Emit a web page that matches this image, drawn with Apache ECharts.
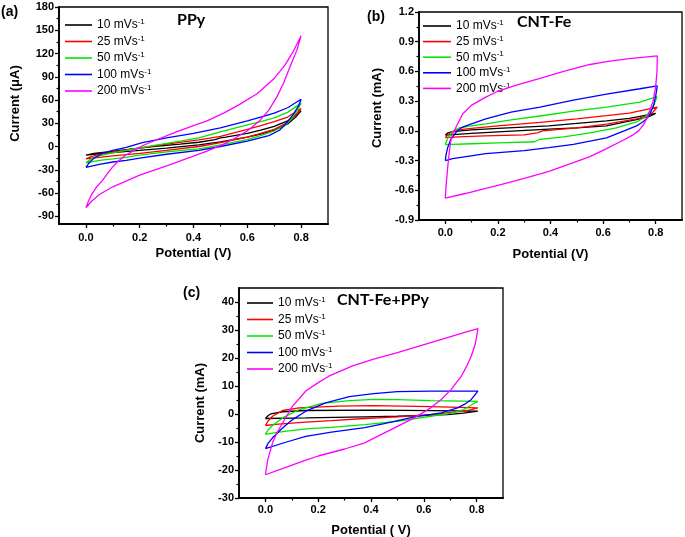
<!DOCTYPE html>
<html><head><meta charset="utf-8">
<script src="https://cdn.jsdelivr.net/npm/echarts@6/dist/echarts.min.js"></script>
<style>html,body{margin:0;padding:0;background:#fff}#c{width:685px;height:537px}</style>
</head><body><div id="c"></div>
<script>
// ---------- labels / ticks ----------
const rates = ['10', '25', '50', '100', '200'];
const rateColors = ['#000000', '#ff0000', '#00e600', '#0000ff', '#ff00ff'];
const potentialTicks = [0, 0.2, 0.4, 0.6, 0.8];
const potentialMinor = [0.1, 0.3, 0.5, 0.7];
const ppyTicks = [-90, -60, -30, 0, 30, 60, 90, 120, 150, 180];
const ppyMinor = [-75, -45, -15, 15, 45, 75, 105, 135, 165];
const cntTicks = [-0.9, -0.6, -0.3, 0, 0.3, 0.6, 0.9, 1.2];
const cntMinor = [-0.75, -0.45, -0.15, 0.15, 0.45, 0.75, 1.05];
const compTicks = [-30, -20, -10, 0, 10, 20, 30, 40];
const compMinor = [-25, -15, -5, 5, 15, 25, 35];

// ---------- (a) PPy, current in uA : [potential V, current] ----------
const ppy10 = [[0,-11],[0.03,-9],[0.08,-7],[0.15,-4],[0.25,0],[0.35,3],[0.42,5.5],[0.48,9],[0.5,11],[0.52,12],[0.6,17],[0.65,21],[0.7,26],[0.75,33],[0.8,46],
  [0.78,38],[0.75,29],[0.7,21],[0.65,16],[0.6,12],[0.5,6],[0.42,2],[0.3,-2],[0.2,-5],[0.1,-8],[0.05,-9.5],[0,-11]];
const ppy25 = [[0,-16],[0.02,-13],[0.05,-10],[0.1,-7],[0.2,-2],[0.3,3],[0.42,8.6],[0.5,13],[0.6,22],[0.65,27],[0.7,32],[0.75,38],[0.8,49],
  [0.78,40],[0.75,31],[0.7,22],[0.65,17],[0.6,12],[0.5,5],[0.42,0],[0.3,-5],[0.2,-9],[0.1,-12],[0.05,-14],[0,-16]];
const ppy50 = [[0,-21],[0.02,-16],[0.05,-12],[0.09,-9],[0.15,-5],[0.21,-1],[0.3,4],[0.42,11],[0.5,19],[0.6,28],[0.65,32],[0.7,37],[0.75,44],[0.8,56],
  [0.785,46],[0.765,36],[0.74,27],[0.7,20],[0.65,14],[0.6,9],[0.5,2],[0.42,-3],[0.3,-7],[0.2,-11],[0.148,-14],[0.1,-16],[0.05,-18],[0,-21]];
const ppy100 = [[0,-27],[0.01,-22],[0.03,-15],[0.06,-9],[0.1,-5],[0.15,-1],[0.21,5],[0.3,11],[0.4,17],[0.5,24],[0.6,33],[0.65,38],[0.7,43],[0.75,50],[0.8,61],
  [0.79,52],[0.772,42],[0.75,32],[0.72,21],[0.68,14],[0.6,7],[0.5,0],[0.42,-5],[0.3,-10],[0.2,-15],[0.15,-18],[0.1,-20],[0.05,-23],[0,-27]];
const ppy200 = [[0,-79],[0.01,-70],[0.023,-61],[0.04,-52],[0.061,-44],[0.08,-35],[0.098,-27],[0.12,-19],[0.148,-11],[0.18,-5],[0.21,1],[0.272,10],[0.334,18.5],[0.4,27],[0.45,33],[0.512,43],[0.57,54],[0.636,68],[0.698,87],[0.74,105],[0.77,122],[0.8,143],
  [0.785,125],[0.76,104],[0.735,82],[0.71,64],[0.68,47],[0.648,34],[0.6,20],[0.55,10],[0.512,3],[0.45,-6],[0.387,-14],[0.3,-25],[0.2,-37],[0.1,-52],[0.05,-62],[0.02,-71],[0,-79]];

// ---------- (b) CNT-Fe, current in mA ----------
const cnt10 = [[0,-0.044],[0.01,-0.02],[0.028,-0.007],[0.1,0.01],[0.2,0.025],[0.394,0.05],[0.5,0.075],[0.613,0.1],[0.7,0.125],[0.8,0.176],
  [0.78,0.15],[0.74,0.12],[0.613,0.05],[0.5,0.03],[0.394,0.017],[0.2,-0.01],[0.1,-0.025],[0,-0.044]];
const cnt25 = [[0,-0.068],[0.01,-0.04],[0.021,-0.017],[0.05,0.01],[0.1,0.025],[0.2,0.05],[0.36,0.085],[0.5,0.12],[0.613,0.153],[0.7,0.18],[0.806,0.24],
  [0.79,0.19],[0.77,0.15],[0.727,0.12],[0.613,0.068],[0.5,0.03],[0.37,0.0],[0.35,-0.02],[0.3,-0.04],[0.15,-0.05],[0.05,-0.06],[0,-0.068]];
const cnt50 = [[0,-0.14],[0.005,-0.1],[0.015,-0.05],[0.03,0.0],[0.053,0.03],[0.1,0.05],[0.154,0.07],[0.25,0.11],[0.36,0.15],[0.487,0.2],[0.613,0.24],[0.74,0.29],[0.805,0.345],
  [0.795,0.27],[0.78,0.2],[0.76,0.14],[0.727,0.09],[0.65,0.03],[0.55,-0.02],[0.45,-0.06],[0.36,-0.085],[0.34,-0.11],[0.2,-0.122],[0.1,-0.13],[0,-0.14]];
const cnt100 = [[0,-0.3],[0.003,-0.24],[0.009,-0.17],[0.021,-0.085],[0.04,-0.017],[0.06,0.03],[0.078,0.05],[0.154,0.12],[0.25,0.19],[0.36,0.24],[0.487,0.31],[0.613,0.37],[0.74,0.425],[0.806,0.455],
  [0.8,0.35],[0.79,0.24],[0.778,0.17],[0.765,0.12],[0.745,0.08],[0.727,0.05],[0.68,0.0],[0.613,-0.07],[0.487,-0.136],[0.394,-0.17],[0.3,-0.2],[0.154,-0.23],[0.028,-0.28],[0,-0.3]];
const cnt200 = [[0,-0.68],[0.003,-0.55],[0.009,-0.37],[0.015,-0.22],[0.021,-0.1],[0.03,-0.02],[0.04,0.034],[0.066,0.17],[0.1,0.26],[0.154,0.34],[0.2,0.4],[0.28,0.47],[0.36,0.53],[0.45,0.6],[0.55,0.67],[0.613,0.7],[0.7,0.73],[0.806,0.757],
  [0.805,0.6],[0.8,0.45],[0.79,0.3],[0.777,0.2],[0.765,0.12],[0.753,0.06],[0.735,0.0],[0.714,-0.04],[0.68,-0.09],[0.613,-0.18],[0.55,-0.26],[0.487,-0.32],[0.394,-0.41],[0.3,-0.48],[0.2,-0.55],[0.154,-0.58],[0.08,-0.63],[0,-0.68]];

// ---------- (c) CNT-Fe+PPy, current in mA ----------
const comp10 = [[0,-1.6],[0.01,-0.6],[0.021,0.07],[0.065,0.8],[0.153,1.25],[0.41,1.4],[0.626,1.2],[0.805,1.0],
  [0.75,0.3],[0.69,-0.2],[0.5,-0.8],[0.376,-1.0],[0.153,-1.4],[0,-1.6]];
const comp25 = [[0,-4.1],[0.01,-2.5],[0.027,-0.8],[0.065,1.25],[0.128,2.2],[0.278,2.8],[0.41,3.0],[0.626,2.6],[0.805,2.2],
  [0.78,1.6],[0.752,1.0],[0.626,-0.2],[0.5,-1.0],[0.376,-1.6],[0.25,-2.4],[0.153,-2.9],[0.05,-3.6],[0,-4.1]];
const comp50 = [[0,-7.3],[0.01,-5.7],[0.027,-4.1],[0.065,-1.4],[0.128,1.6],[0.215,3.8],[0.318,4.8],[0.41,5.2],[0.5,5.1],[0.626,4.8],[0.805,4.5],
  [0.78,3.2],[0.752,1.6],[0.7,0.2],[0.626,-0.8],[0.5,-2.6],[0.376,-3.8],[0.25,-4.8],[0.153,-5.3],[0.08,-6.1],[0.027,-6.8],[0,-7.3]];
const comp100 = [[0,-12.4],[0.01,-10.5],[0.027,-8.5],[0.065,-5],[0.103,-2],[0.153,1],[0.228,4],[0.318,6.2],[0.41,7.3],[0.5,8.0],[0.626,8.2],[0.805,8.2],
  [0.78,5.2],[0.755,3.5],[0.728,2.2],[0.666,0.4],[0.564,-1],[0.45,-3.4],[0.376,-4.9],[0.25,-6.5],[0.153,-8],[0.08,-10],[0,-12.4]];
const comp200 = [[0,-21.7],[0.009,-16.3],[0.027,-10.3],[0.045,-6.5],[0.065,-3.2],[0.103,2.8],[0.153,8.2],[0.2,11.2],[0.24,13.5],[0.328,17.1],[0.41,19.6],[0.5,21.9],[0.626,25.5],[0.752,29.1],[0.805,30.5],
  [0.795,25],[0.78,20.7],[0.762,17],[0.742,13.5],[0.704,8.8],[0.666,5.2],[0.626,2.2],[0.564,-1.4],[0.5,-4.4],[0.44,-7.3],[0.376,-10.3],[0.3,-12.5],[0.2,-15],[0.153,-16.5],[0.08,-19],[0,-21.7]];

const panelData = [
  [ppy10, ppy25, ppy50, ppy100, ppy200],
  [cnt10, cnt25, cnt50, cnt100, cnt200],
  [comp10, comp25, comp50, comp100, comp200]
];

// ---------- layout ----------
const FONT = 'Liberation Sans';
const grids = [
  {left: 59, top: 7, width: 269, height: 217},
  {left: 419, top: 12, width: 263, height: 208},
  {left: 239, top: 288, width: 264, height: 210}
];
const yConf = [
  {min: -100, max: 180, ticks: ppyTicks, minor: ppyMinor, fmt: v => String(Math.round(v)), name: 'Current (\u03bcA)', gap: 37, pad: [0, 0, 0, 24]},
  {min: -0.9, max: 1.2, ticks: cntTicks, minor: cntMinor, fmt: v => v.toFixed(1), name: 'Current (mA)', gap: 35, pad: [0, 0, 0, 16]},
  {min: -30, max: 45, ticks: compTicks, minor: compMinor, fmt: v => String(Math.round(v)), name: 'Current (mA)', gap: 32, pad: [0, 20, 0, 0]}
];
const xConf = [
  {name: 'Potential (V)', gap: 23, margin: 8},
  {name: 'Potential (V)', gap: 28, margin: 7},
  {name: 'Potential ( V)', gap: 26, margin: 6}
];

const labelStyle = {color: '#000', fontFamily: FONT, fontWeight: 'bold', fontSize: 11};
const nameStyle = {color: '#000', fontFamily: FONT, fontWeight: 'bold', fontSize: 13};
const axisLine = {show: true, onZero: false, lineStyle: {color: '#000', width: 1.8}};
const hiddenLine = {show: false, onZero: false};

const xAxis = [], yAxis = [], series = [];
grids.forEach((g, i) => {
  xAxis.push({
    gridIndex: i, type: 'value', min: -0.1, max: 0.9, position: 'bottom',
    axisLine, splitLine: {show: false},
    axisTick: {show: true, customValues: potentialTicks, length: 4, lineStyle: {color: '#000', width: 1.3}},
    axisLabel: {customValues: potentialTicks, formatter: v => v.toFixed(1), margin: xConf[i].margin, ...labelStyle},
    name: xConf[i].name, nameLocation: 'middle', nameGap: xConf[i].gap, nameTextStyle: nameStyle
  });
  xAxis.push({
    gridIndex: i, type: 'value', min: -0.1, max: 0.9, position: 'bottom',
    axisLine: hiddenLine, splitLine: {show: false}, axisLabel: {show: false},
    axisTick: {show: true, customValues: potentialMinor, length: 2.5, lineStyle: {color: '#000', width: 1.2}}
  });
  const yc = yConf[i];
  yAxis.push({
    gridIndex: i, type: 'value', min: yc.min, max: yc.max, position: 'left',
    axisLine, splitLine: {show: false},
    axisTick: {show: true, customValues: yc.ticks, length: 4, lineStyle: {color: '#000', width: 1.3}},
    axisLabel: {customValues: yc.ticks, formatter: yc.fmt, margin: 5, ...labelStyle},
    name: yc.name, nameLocation: 'middle', nameGap: yc.gap, nameRotate: 90,
    nameTextStyle: {...nameStyle, padding: yc.pad}
  });
  yAxis.push({
    gridIndex: i, type: 'value', min: yc.min, max: yc.max, position: 'left',
    axisLine: hiddenLine, splitLine: {show: false}, axisLabel: {show: false},
    axisTick: {show: true, customValues: yc.minor, length: 2.5, lineStyle: {color: '#000', width: 1.2}}
  });
  panelData[i].forEach((d, k) => {
    series.push({
      type: 'line', name: rates[k], xAxisIndex: i * 2, yAxisIndex: i * 2,
      data: d, symbol: 'none', showSymbol: false, smooth: false,
      lineStyle: {color: rateColors[k], width: 1.3}, itemStyle: {color: rateColors[k]},
      z: 2 + k
    });
  });
});

const legendText = {
  rich: {
    t: {fontSize: 12, fontFamily: FONT, color: '#000', lineHeight: 14},
    s: {fontSize: 8, fontFamily: FONT, color: '#000', lineHeight: 8, verticalAlign: 'top'}
  }
};
const mkLegend = (left, top, w, gap) => ({
  orient: 'vertical', left, top, itemWidth: w, itemHeight: 1.6, itemGap: gap,
  icon: 'rect', data: rates, selectedMode: false, padding: 0,
  formatter: n => `{t|${n} mVs}{s|-1}`, textStyle: legendText
});

const titleStyle = {color: '#000', fontFamily: 'Lato', fontWeight: 'bold', fontSize: 16};
const panelStyle = {color: '#000', fontFamily: FONT, fontWeight: 'bold', fontSize: 14};

const option = {
  animation: false,
  backgroundColor: '#fff',
  title: [
    {text: '(a)', left: 1, top: 5, padding: 0, textStyle: panelStyle},
    {text: '(b)', left: 367, top: 10, padding: 0, textStyle: panelStyle},
    {text: '(c)', left: 183, top: 286, padding: 0, textStyle: panelStyle},
    {text: 'PPy', left: 177, top: 12, padding: 0, textStyle: titleStyle},
    {text: 'CNT-Fe', left: 517, top: 14, padding: 0, textStyle: titleStyle},
    {text: 'CNT-Fe+PPy', left: 337, top: 292, padding: 0, textStyle: titleStyle}
  ],
  legend: [mkLegend(65, 18, 27, 3.5), mkLegend(423, 19, 28, 2.6), mkLegend(247, 296, 26, 3.5)],
  grid: grids.map(g => ({...g, show: true, borderColor: '#000', borderWidth: 1.3, backgroundColor: 'transparent', outerBoundsMode: 'none', containLabel: false})),
  xAxis, yAxis, series
};

const chart = echarts.init(document.getElementById('c'), null, {renderer: 'canvas'});
chart.setOption(option);
</script>
</body></html>
